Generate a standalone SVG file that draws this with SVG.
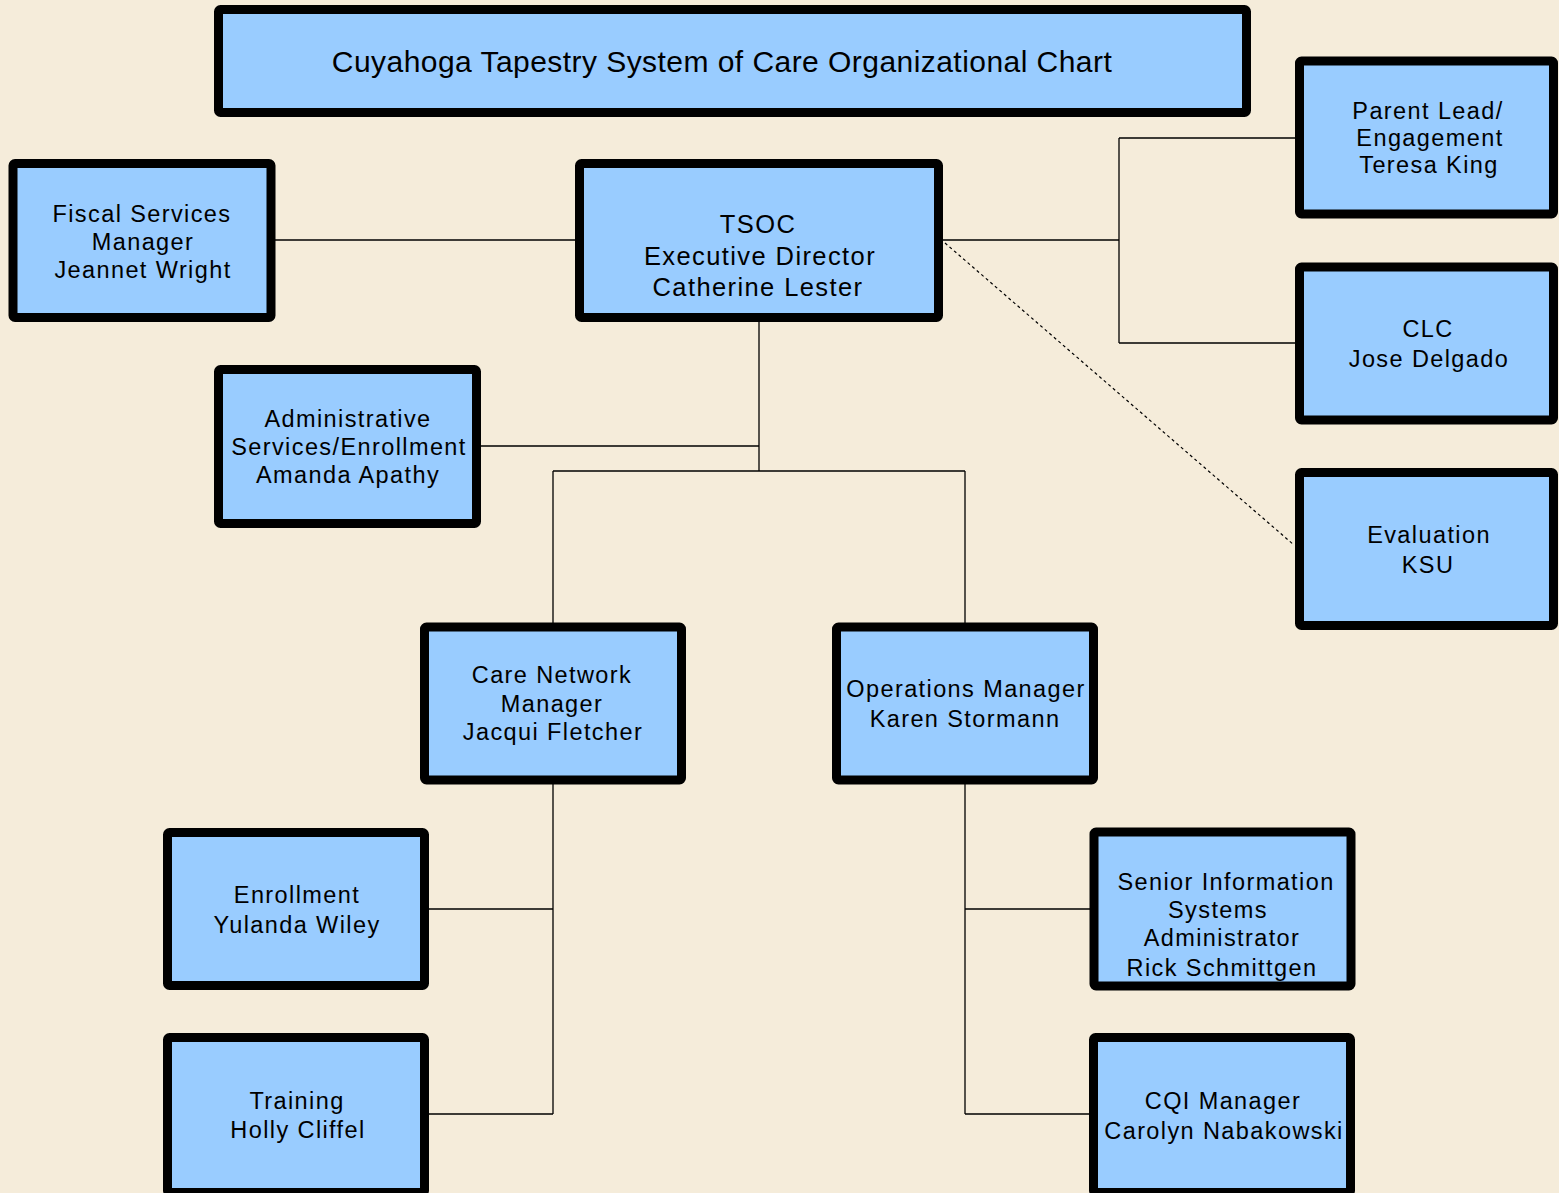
<svg xmlns="http://www.w3.org/2000/svg" width="1559" height="1193" viewBox="0 0 1559 1193">
<style>
.box{fill:#99CCFF;stroke:#000;stroke-width:9;}
.t{font-family:"Liberation Sans",Arial,sans-serif;font-size:23.5px;letter-spacing:1.4px;fill:#000;text-anchor:middle;}
.big{font-size:25.5px;letter-spacing:1.4px;}
.title{font-size:30px;letter-spacing:0.45px;}
.c{fill:none;stroke:#000;stroke-width:1.3;}
.d{fill:none;stroke:#000;stroke-width:1.2;stroke-dasharray:3 3;}
</style>
<rect width="1559" height="1193" fill="#F5ECDA"/>
<g id="connectors">
<path class="c" d="M275 240H575"/>
<path class="c" d="M943 240H1119M1119 138V343M1119 138H1295M1119 343H1295"/>
<path class="d" d="M945 243L1294 545"/>
<path class="c" d="M759 322V471M481 446H759M553 471H965M553 471V623M965 471V623"/>
<path class="c" d="M553 784V1114M429 909H553M429 1114H553"/>
<path class="c" d="M965 784V1114M965 909H1090M965 1114H1089"/>
</g>
<g id="title">
<rect class="box" x="218.5" y="9.5" width="1028" height="103" rx="2"/>
<text class="t title" x="722" y="72">Cuyahoga Tapestry System of Care Organizational Chart</text>
</g>
<g id="tsoc">
<rect class="box" x="579.5" y="163.5" width="359" height="154" rx="2"/>
<text class="t big" x="758" y="233">TSOC</text>
<text class="t big" x="760" y="265">Executive Director</text>
<text class="t big" x="758" y="296">Catherine Lester</text>
</g>
<g id="fiscal">
<rect class="box" x="13" y="163.5" width="258" height="154" rx="2"/>
<text class="t" x="142" y="222">Fiscal Services</text>
<text class="t" x="143" y="250">Manager</text>
<text class="t" x="143" y="278">Jeannet Wright</text>
</g>
<g id="admin">
<rect class="box" x="218.5" y="369.5" width="258" height="154" rx="2"/>
<text class="t" x="348" y="427">Administrative</text>
<text class="t" x="349" y="455">Services/Enrollment</text>
<text class="t" x="348" y="483">Amanda Apathy</text>
</g>
<g id="parent">
<rect class="box" x="1299.5" y="61" width="254" height="153" rx="2"/>
<text class="t" x="1428" y="119">Parent Lead/</text>
<text class="t" x="1430" y="146">Engagement</text>
<text class="t" x="1429" y="173">Teresa King</text>
</g>
<g id="clc">
<rect class="box" x="1299.5" y="267" width="254" height="153" rx="2"/>
<text class="t" x="1428" y="337">CLC</text>
<text class="t" x="1429" y="367">Jose Delgado</text>
</g>
<g id="evaluation">
<rect class="box" x="1299.5" y="472.5" width="254" height="153" rx="2"/>
<text class="t" x="1429" y="543">Evaluation</text>
<text class="t" x="1428" y="573">KSU</text>
</g>
<g id="care">
<rect class="box" x="424.5" y="627" width="257" height="153" rx="2"/>
<text class="t" x="552" y="683">Care Network</text>
<text class="t" x="552" y="712">Manager</text>
<text class="t" x="553" y="740">Jacqui Fletcher</text>
</g>
<g id="operations">
<rect class="box" x="836.5" y="627" width="257" height="153" rx="2"/>
<text class="t" x="966" y="697">Operations Manager</text>
<text class="t" x="965" y="727">Karen Stormann</text>
</g>
<g id="enrollment">
<rect class="box" x="167.5" y="832.5" width="257" height="153" rx="2"/>
<text class="t" x="297" y="903">Enrollment</text>
<text class="t" x="297" y="933">Yulanda Wiley</text>
</g>
<g id="training">
<rect class="box" x="167.5" y="1037.5" width="257" height="155" rx="2"/>
<text class="t" x="297" y="1109">Training</text>
<text class="t" x="298" y="1138">Holly Cliffel</text>
</g>
<g id="senior">
<rect class="box" x="1094" y="832" width="257" height="154" rx="2"/>
<text class="t" x="1226" y="890">Senior Information</text>
<text class="t" x="1218" y="918">Systems</text>
<text class="t" x="1222" y="946">Administrator</text>
<text class="t" x="1222" y="976">Rick Schmittgen</text>
</g>
<g id="cqi">
<rect class="box" x="1093.5" y="1037.5" width="257" height="155" rx="2"/>
<text class="t" x="1223" y="1109">CQI Manager</text>
<text class="t" x="1224" y="1139">Carolyn Nabakowski</text>
</g>
</svg>
